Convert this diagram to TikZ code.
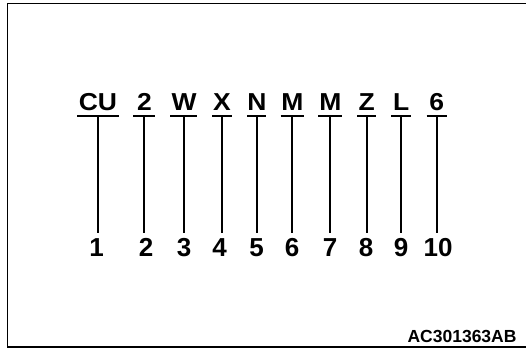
\documentclass[tikz,border=0pt]{standalone}
\usepackage{fontspec}
\setmainfont{Liberation Sans}
\begin{document}
\begin{tikzpicture}[x=1pt,y=-1pt,
  letter/.style={font=\fontsize{24.5}{24.5}\selectfont\bfseries, inner sep=0pt, anchor=base},
  digit/.style={font=\fontsize{26}{26}\selectfont\bfseries, inner xsep=0pt, inner ysep=5.5pt, anchor=base},
  uline/.style={line width=1.5pt},
  conn/.style={line width=1.9pt},
  frame/.style={line width=1.4pt}]
\useasboundingbox (0,0) rectangle (526,349);
\draw[frame] (526,3.3) -- (7.3,3.3) -- (7.3,347) -- (526,347);
% letters
\foreach \t/\x/\a/\b/\v [count=\i] in {CU/98/77/119/97.7, 2/144.5/133/155/143.7, W/184/170/197/184, X/222/212/232/222, N/257/247/266/256.7, M/292.3/280.7/304/292.3, M/330.3/318/342/330.3, Z/366.7/357/376/366.7, L/401.3/391/411/401.3, 6/436.7/426.7/446.7/436.7}{
  \node[letter] (l\i) at (\x,110) {\scalebox{1.08}[1]{\t}};
  \coordinate (ua\i) at (\a,116);
  \coordinate (ub\i) at (\b,116);
  \coordinate (t\i) at (\v,116);
}
% digits
\foreach \d/\x [count=\i] in {1/96.7, 2/146, 3/184, 4/219.5, 5/256.7, 6/292, 7/330, 8/366, 9/401, 10/438}{
  \node[digit] (n\i) at (\x,256.7) {\d};
}
\foreach \i in {1,...,10}{
  \draw[uline] (ua\i) -- (ub\i);
  \draw[conn] (t\i) -- (t\i |- n\i.north);
}
\node[font=\fontsize{17.5}{17.5}\selectfont\bfseries, inner sep=0pt, anchor=base east] (code) at (516.7,342.7) {AC301363AB};
\end{tikzpicture}
\end{document}
